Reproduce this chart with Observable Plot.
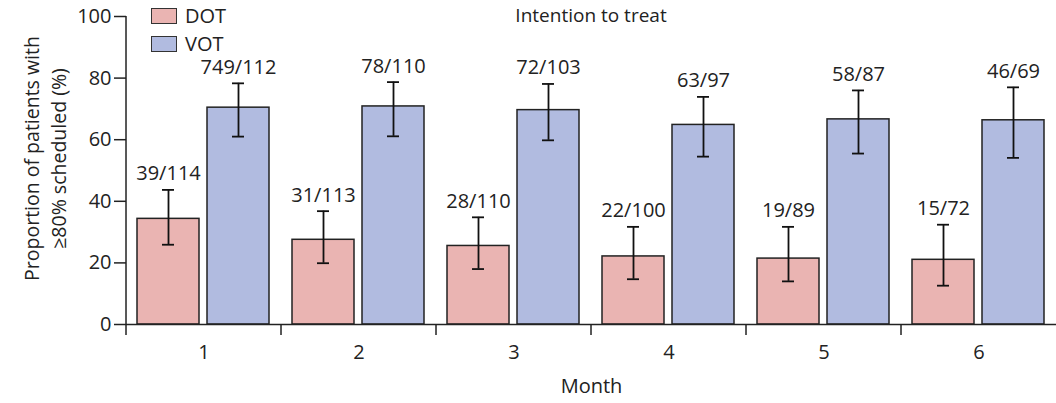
<!DOCTYPE html>
<html>
<head>
<meta charset="utf-8">
<script src="https://cdn.jsdelivr.net/npm/d3@7"></script>
<script src="https://cdn.jsdelivr.net/npm/@observablehq/plot@0.6"></script>
<style>
  html, body { margin: 0; padding: 0; background: #fff; }
  #wrap { position: relative; width: 1056px; height: 403px; font-family: "Open Sans", sans-serif; color: #222; }
  .legend { position: absolute; left: 151px; top: 2px; font-size: 20px; }
  .legend .row { display: flex; align-items: center; height: 28px; }
  .legend .row span { line-height: 18px; }
  .legend .sw { width: 24px; height: 14px; border: 1.5px solid #333; margin-right: 8px; }
  .title { position: absolute; top: 2px; font-size: 19px; line-height: 26px; transform: translateX(-50%); white-space: nowrap; }
</style>
</head>
<body>
<div id="wrap"></div>
<script>
const months = [1, 2, 3, 4, 5, 6];
const groups = ["DOT", "VOT"];
const dotPct = [34.3, 27.5, 25.5, 22.1, 21.4, 21.0];
const dotLo  = [25.9, 19.9, 18.0, 14.7, 14.0, 12.6];
const dotHi  = [43.7, 36.8, 34.8, 31.7, 31.7, 32.4];
const dotLabels = ["39/114", "31/113", "28/110", "22/100", "19/89", "15/72"];
const votPct = [70.4, 70.8, 69.6, 64.8, 66.6, 66.3];
const votLo  = [61.0, 61.1, 59.8, 54.5, 55.5, 54.1];
const votHi  = [78.3, 78.7, 78.1, 73.9, 76.0, 77.0];
const votLabels = ["749/112", "78/110", "72/103", "63/97", "58/87", "46/69"];
const yTicks = [0, 20, 40, 60, 80, 100];
const colors = ["#eab4b2", "#b1bbe0"];
const yLabel = "Proportion of patients with\n≥80% scheduled (%)";
const xLabel = "Month";
const title = "Intention to treat";

const data = [];
months.forEach((m, i) => {
  data.push({month: m, group: "DOT", value: dotPct[i], lo: dotLo[i], hi: dotHi[i], label: dotLabels[i]});
  data.push({month: m, group: "VOT", value: votPct[i], lo: votLo[i], hi: votHi[i], label: votLabels[i]});
});

const W = 1056, H = 403, mL = 126, mR = 0, mT = 16, mB = 79;
const pInner = 0.114, pOuter = 0.164;
const facetW = (W - mL - mR) / months.length;
const step = facetW / (2 - pInner + 2 * pOuter);
const bw = step * (1 - pInner);
const sepDx = -(pOuter * step + bw / 2);
const font = "Open Sans, sans-serif";
const fs = 20;

const plot = Plot.plot({
  width: W, height: H,
  marginLeft: mL, marginRight: mR, marginTop: mT, marginBottom: mB,
  style: {fontFamily: font, fontSize: fs + "px", color: "#222", background: "#fff"},
  fx: {domain: months, padding: 0, label: null},
  x: {domain: groups, paddingInner: pInner, paddingOuter: pOuter, axis: null},
  y: {domain: [0, 100], axis: null},
  color: {domain: groups, range: colors},
  marks: [
    Plot.axisY({ticks: yTicks, tickSize: 12, tickPadding: 3, fontSize: fs, label: null, stroke: "#222", strokeWidth: 1.5}),
    Plot.text([{m: months[0], t: yLabel}], {fx: "m", text: "t", x: () => "DOT", dx: sepDx - 82, dy: -12, textAnchor: "middle", lineAnchor: "middle", rotate: -90, fontSize: 19.5, lineHeight: 1.4, fill: "#222"}),
    Plot.axisFx({anchor: "bottom", tickSize: 0, tickPadding: 20, fontSize: fs, label: xLabel, labelAnchor: "center", labelOffset: 68}),
    Plot.barY(data, {fx: "month", x: "group", y: "value", fill: "group", stroke: "#222", strokeWidth: 1.5}),
    Plot.ruleX(data, {fx: "month", x: "group", y1: "lo", y2: "hi", stroke: "#111", strokeWidth: 1.8}),
    Plot.tickY(data, {fx: "month", x: "group", y: "hi", insetLeft: (bw - 12) / 2, insetRight: (bw - 12) / 2, stroke: "#111", strokeWidth: 1.8}),
    Plot.tickY(data, {fx: "month", x: "group", y: "lo", insetLeft: (bw - 12) / 2, insetRight: (bw - 12) / 2, stroke: "#111", strokeWidth: 1.8}),
    Plot.text(data, {fx: "month", x: "group", y: "hi", text: "label", dy: -16, lineAnchor: "middle", fontSize: fs, fill: "#222"}),
    Plot.ruleY([0], {stroke: "#222", strokeWidth: 1.5}),
    Plot.ruleX(months, {fx: d => d, x: () => "DOT", dx: sepDx, y1: 0, y2: 0, insetTop: 11, stroke: "#222", strokeWidth: 1.5}),
    Plot.ruleX([months[0]], {fx: d => d, x: () => "DOT", dx: sepDx, y1: 0, y2: 100, stroke: "#222", strokeWidth: 1.5})
  ]
});

const wrap = document.getElementById("wrap");
wrap.appendChild(plot);

const legend = document.createElement("div");
legend.className = "legend";
groups.forEach((g, i) => {
  const row = document.createElement("div");
  row.className = "row";
  const sw = document.createElement("div");
  sw.className = "sw";
  sw.style.background = colors[i];
  const t = document.createElement("span");
  t.textContent = g;
  row.appendChild(sw); row.appendChild(t);
  legend.appendChild(row);
});
wrap.appendChild(legend);

const tt = document.createElement("div");
tt.className = "title";
tt.style.left = (mL + (W - mL - mR) / 2) + "px";
tt.textContent = title;
wrap.appendChild(tt);
</script>
</body>
</html>
